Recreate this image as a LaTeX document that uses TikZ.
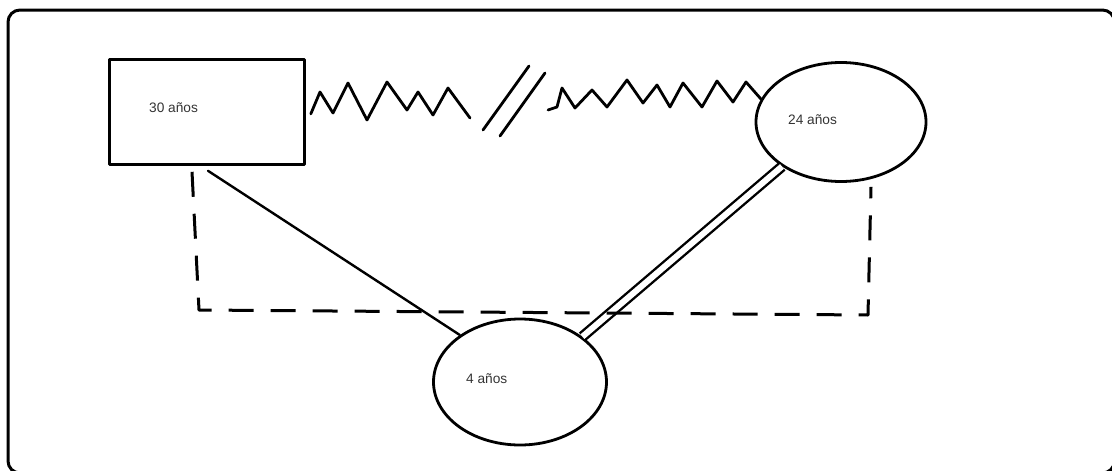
\documentclass[tikz,border=0pt]{standalone}
\usepackage{fontspec}
\setmainfont{Liberation Sans}
\usetikzlibrary{shapes.geometric,calc}
\definecolor{txt}{HTML}{333333}
\begin{document}
\begin{tikzpicture}[x=1pt,y=-1pt,line join=round,line cap=round,
  lbl/.style={anchor=west,inner sep=0pt,text=txt,font=\fontsize{13.7}{15}\selectfont},
  person/.style={draw,line width=2.8pt,inner sep=0pt},
  solidlink/.style={line width=2.4pt},
  doublelink/.style={double,double distance=6pt,line width=2.4pt,line cap=butt},
  dashlink/.style={line width=3pt,dash pattern=on 25pt off 17pt,line cap=butt},
  ziglink/.style={line width=2.8pt}]
\useasboundingbox (0,0) rectangle (1112,471);
\draw[line width=3pt,rounded corners=12pt] (8,10) rectangle (1114.5,473);

\node[person,rectangle,minimum width=195pt,minimum height=105pt,anchor=north west] (r) at (108,58) {};
\node[lbl] (t30) at (149,108) {30 años};

\node[person,ellipse,minimum width=170pt,minimum height=119pt] (e24) at (841,122) {};
\node[lbl] (t24) at (788,120) {24 años};

\node[person,ellipse,minimum width=173pt,minimum height=126pt] (e4) at (520,382) {};
\node[lbl] (t4) at (466,379) {4 años};

% solid line
\draw[solidlink] ($(r.south west)+(100,5)$) -- (e4.142);

% double line
\draw[doublelink] (e24.217) -- (e4.36);

% dashed line
\draw[dashlink] ($(r.south west)+(84,6)$) -- (199,310) -- (868,315) -- ($(e24.south)+(30,4)$);

% zigzag left part
\draw[ziglink] ($(r.east)+(5,2)$) -- (320,92) -- (333,113) -- (348,83) -- (367,120) -- (387,82)
  -- (407,110) -- (418,92) -- (433,115) -- (448,88) -- (470,118);
% break marks
\coordinate (b1s) at (483,130); \coordinate (b1e) at (529,66);
\coordinate (b2s) at (500,136); \coordinate (b2e) at (545,73);
\draw[ziglink] (b1s) -- (b1e);
\draw[ziglink] (b2s) -- (b2e);
% zigzag right part
\draw[ziglink] (548,110) -- (557,107) -- (562,88) -- (575,108) -- (592,90) -- (607,107)
  -- (627,80) -- (643,103) -- (657,85) -- (670,107) -- (683,83) -- (702,107) -- (717,81)
  -- (733,102) -- (746,82) -- (e24.164);
\end{tikzpicture}
\end{document}
